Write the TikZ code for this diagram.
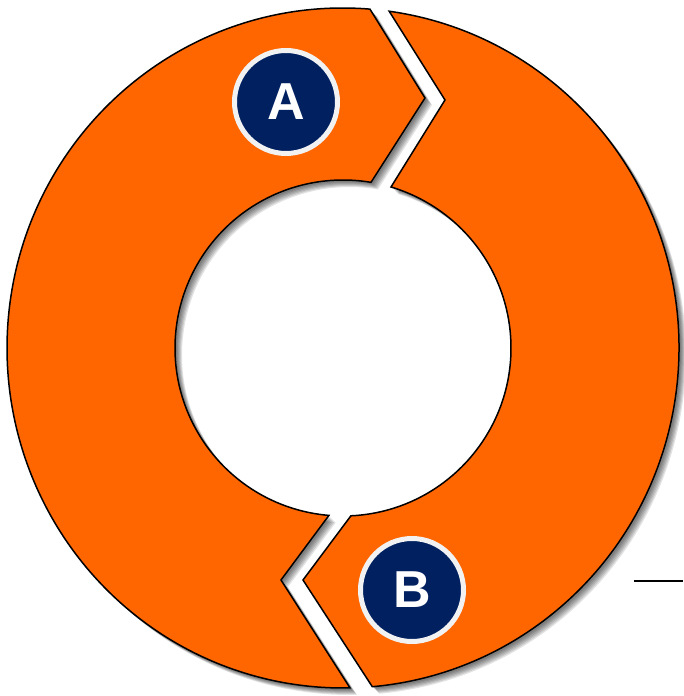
\documentclass[tikz,border=0pt]{standalone}
\usepackage{fontspec}
\newfontfamily\badgefont{Liberation Sans}
\definecolor{segorange}{RGB}{255,102,0}
\definecolor{badgenavy}{RGB}{0,32,96}
\definecolor{badgering}{RGB}{242,242,242}
\newcommand\pathSegLeft{(85.4:336pt and 340pt) arc[start angle=85.4, end angle=271.2, x radius=336pt, y radius=340pt] -- (-62,-232) -- (265.2:168pt) arc[start angle=265.2, end angle=80.4, radius=168pt] -- (82,250) -- cycle}
\newcommand\pathSegRight{(82.1:336pt and 340pt) arc[start angle=82.1, end angle=-85, x radius=336pt, y radius=340pt] -- (-40,-232) -- (-87.3:168pt) arc[start angle=-87.3, end angle=73.4, radius=168pt] -- (102,248) -- cycle}
\begin{document}
\begin{tikzpicture}[x=1pt,y=1pt,
  seg/.style={fill=segorange, draw=black, line width=1.5pt, line join=miter},
  segshadow/.style={fill=black, opacity=0.11},
  badge/.style={circle, fill=badgenavy, draw=badgering, line width=5pt, minimum size=103pt, inner sep=0pt, text=white, font=\badgefont\bfseries\fontsize{52}{52}\selectfont}]
\useasboundingbox (-343,-348) rectangle (340,348);
% shadows
\foreach \d in {2,3,4,5,6,7} {
  \fill[segshadow, shift={(\d,-\d)}] \pathSegLeft;
  \fill[segshadow, shift={(\d,-\d)}] \pathSegRight;
}
% segments
\path[seg] \pathSegLeft;
\path[seg] \pathSegRight;
% badges
\node[badge] (A) at (-57,246) {A};
\node[badge] (B) at (69,-242) {B};
% small line at right
\coordinate (l1) at (291,-233);
\coordinate (l2) at (340,-233);
\draw[line width=1.5pt] (l1) -- (l2);
\end{tikzpicture}
\end{document}
